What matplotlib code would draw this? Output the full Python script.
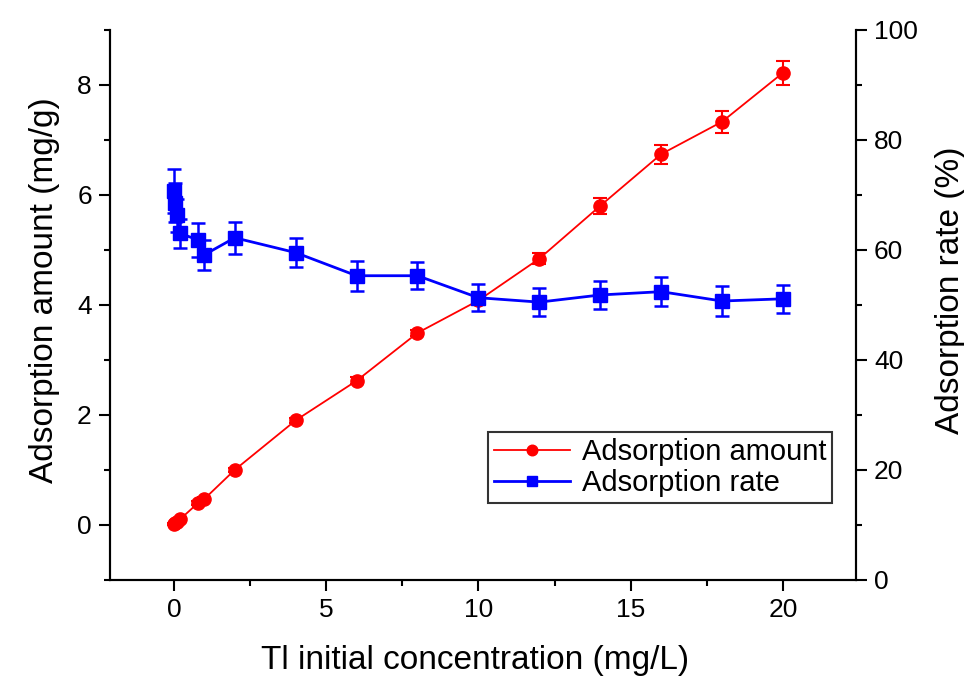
import matplotlib.pyplot as plt
from matplotlib.ticker import MultipleLocator

plt.rcParams['font.family'] = ['Liberation Sans', 'DejaVu Sans']

# Tl initial concentration (mg/L)
conc = [0.02, 0.05, 0.1, 0.2, 0.8, 1.0, 2, 4, 6, 8, 10, 12, 14, 16, 18, 20]

# adsorption amount (mg/g) and error
amount = [0.01, 0.03, 0.06, 0.1, 0.4, 0.47, 1.0, 1.9, 2.62, 3.49, 4.08, 4.84, 5.8, 6.74, 7.33, 8.22]
amount_err = [0.02, 0.03, 0.03, 0.03, 0.04, 0.04, 0.04, 0.05, 0.06, 0.06, 0.08, 0.1, 0.15, 0.17, 0.2, 0.22]

# adsorption rate (%) and error
rate = [70.7, 68.6, 66.3, 63.0, 61.8, 59.1, 62.2, 59.5, 55.3, 55.3, 51.3, 50.5, 51.8, 52.4, 50.7, 51.1]
rate_err = [4.0, 3.5, 3.0, 2.6, 3.1, 2.7, 2.9, 2.7, 2.7, 2.5, 2.5, 2.5, 2.5, 2.6, 2.7, 2.6]

fig = plt.figure(figsize=(9.64, 6.79), dpi=100)
ax = fig.add_axes([0.114, 0.146, 0.774, 0.81])
ax2 = ax.twinx()

l1, = ax.plot(conc, amount, color='red', lw=1.3, marker='o', ms=9.5, zorder=3)
ax.errorbar(conc, amount, yerr=amount_err, fmt='none', ecolor='red',
            elinewidth=1.5, capsize=5, capthick=1.5, zorder=3)

l2, = ax2.plot(conc, rate, color='blue', lw=2, marker='s', ms=9.5, zorder=3)
ax2.errorbar(conc, rate, yerr=rate_err, fmt='none', ecolor='blue',
             elinewidth=1.8, capsize=5, capthick=1.8, zorder=3)

ax.set_xlim(-2.1, 22.4)
ax.set_ylim(-1, 9)
ax2.set_ylim(0, 100)

ax.xaxis.set_major_locator(MultipleLocator(5))
ax.xaxis.set_minor_locator(MultipleLocator(2.5))
ax.yaxis.set_major_locator(MultipleLocator(2))
ax.yaxis.set_minor_locator(MultipleLocator(1))
ax2.yaxis.set_major_locator(MultipleLocator(20))
ax2.yaxis.set_minor_locator(MultipleLocator(10))

for a in (ax, ax2):
    a.tick_params(which='major', direction='out', length=8, width=1.5, labelsize=19, pad=5)
    a.tick_params(which='minor', direction='out', length=4.5, width=1.5)
    for s in a.spines.values():
        s.set_linewidth(1.5)
ax.spines['top'].set_visible(False)
ax2.spines['top'].set_visible(False)

ax.set_xlabel('Tl initial concentration (mg/L)', fontsize=24)
ax.set_ylabel('Adsorption amount (mg/g)', fontsize=24, labelpad=12)
ax2.set_ylabel('Adsorption rate (%)', fontsize=24, labelpad=12)
ax.xaxis.set_label_coords(0.489, -0.118)
ax.yaxis.label.set_y(0.527)
ax2.yaxis.label.set_y(0.527)

leg = ax2.legend([l1, l2], ['Adsorption amount', 'Adsorption rate'],
                 loc='lower left', bbox_to_anchor=(0.507, 0.14),
                 fontsize=21, frameon=True, fancybox=False, edgecolor='black',
                 handlelength=2.6, borderpad=0.2, labelspacing=0.1,
                 handletextpad=0.4, borderaxespad=0, markerscale=0.8)
leg.get_frame().set_linewidth(1.5)

fig.savefig('out.png', dpi=100)
